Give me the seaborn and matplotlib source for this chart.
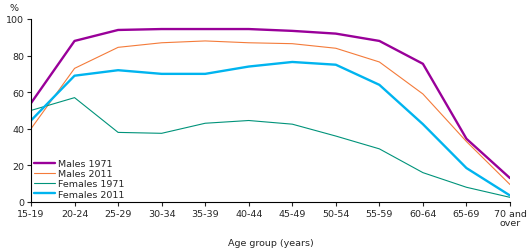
import matplotlib

matplotlib.use("Agg")
import matplotlib.pyplot as plt
import pandas as pd
import seaborn as sns

age_groups = ["15-19", "20-24", "25-29", "30-34", "35-39", "40-44", "45-49",
              "50-54", "55-59", "60-64", "65-69", "70 and\nover"]
males_1971 = [54, 88, 94, 94.5, 94.5, 94.5, 93.5, 92, 88, 75.5, 34.5, 13]
males_2011 = [40, 73, 84.5, 87, 88, 87, 86.5, 84, 76.5, 59, 33, 9.5]
females_1971 = [50, 57, 38, 37.5, 43, 44.5, 42.5, 36, 29, 16, 8, 2.5]
females_2011 = [44.5, 69, 72, 70, 70, 74, 76.5, 75, 64, 42.5, 18.5, 3.5]

series = {
    "Males 1971": males_1971,
    "Males 2011": males_2011,
    "Females 1971": females_1971,
    "Females 2011": females_2011,
}
rows = []
for name, vals in series.items():
    for i, (age, v) in enumerate(zip(age_groups, vals)):
        rows.append({"pos": i, "age": age, "series": name, "value": v})
df = pd.DataFrame(rows)

palette = {
    "Males 1971": "#990099",
    "Males 2011": "#F47B3A",
    "Females 1971": "#00937A",
    "Females 2011": "#00B4EF",
}
widths = {"Males 1971": 1.7, "Males 2011": 0.8, "Females 1971": 0.8, "Females 2011": 1.7}

sns.set_style("ticks")
plt.rcParams["font.family"] = ["DejaVu Sans"]

fig = plt.figure(figsize=(5.29, 2.53), dpi=100)
ax = fig.add_axes([0.0586, 0.198, 0.9055, 0.723])

for name in series:
    sns.lineplot(data=df[df["series"] == name], x="pos", y="value", color=palette[name],
                 linewidth=widths[name], label=name, ax=ax)

ax.set_xlim(0, len(age_groups) - 1)
ax.set_ylim(0, 100)
ax.set_xticks(range(len(age_groups)))
ax.set_xticklabels(age_groups, fontsize=6.8, linespacing=1.0)
ax.set_yticks(range(0, 101, 20))
ax.tick_params(axis="y", labelsize=6.8, length=3, width=0.8, pad=2)
ax.tick_params(axis="x", length=3, width=0.8, pad=2)
ax.set_xlabel("Age group (years)", fontsize=6.8, labelpad=8)
ax.set_ylabel("")
for s in ["top", "right"]:
    ax.spines[s].set_visible(False)
for s in ["left", "bottom"]:
    ax.spines[s].set_linewidth(0.8)
    ax.spines[s].set_color("black")

ax.text(-0.035, 1.04, "%", transform=ax.transAxes, fontsize=6.8, ha="center", va="bottom")

ax.legend(loc="lower left", bbox_to_anchor=(0.0, 0.0), frameon=False, fontsize=6.8,
          handlelength=2.2, handletextpad=0.3, labelspacing=0.12, borderaxespad=0.15,
          borderpad=0.2)

fig.savefig("out.png", dpi=100)
